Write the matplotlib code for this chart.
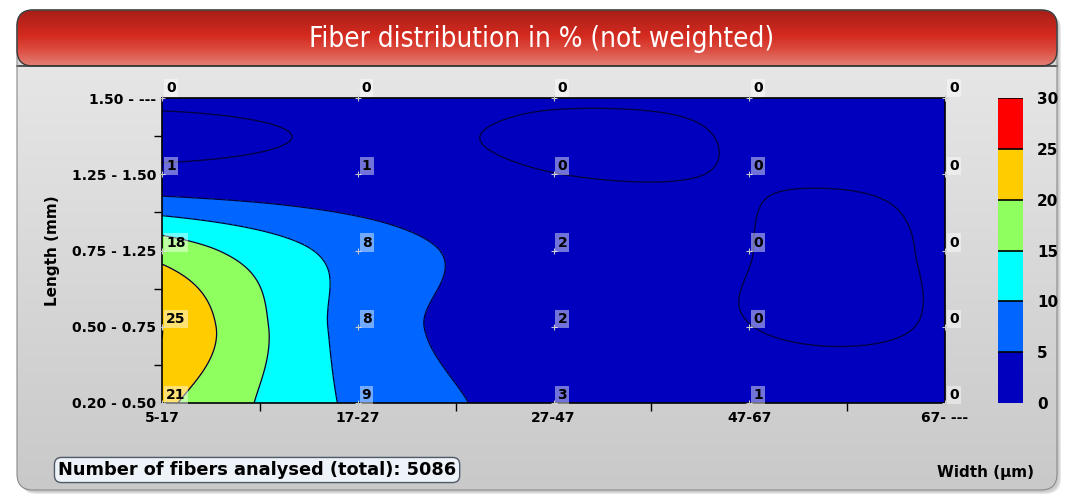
import numpy as np
import matplotlib
matplotlib.use("Agg")
import matplotlib.pyplot as plt
from matplotlib.colors import ListedColormap, BoundaryNorm, LinearSegmentedColormap
from matplotlib.patches import FancyBboxPatch

# class labels (bottom -> top for length, left -> right for width)
width_labels = ["5-17", "17-27", "27-47", "47-67", "67- ---"]
length_labels = ["0.20 - 0.50", "0.50 - 0.75", "0.75 - 1.25", "1.25 - 1.50", "1.50 - ---"]

# percentage of fibers per class, one row per length class
pct_020_050 = [21, 9, 3, 1, 0]
pct_050_075 = [25, 8, 2, 0, 0]
pct_075_125 = [18, 8, 2, 0, 0]
pct_125_150 = [1, 1, 0, 0, 0]
pct_150_up = [0, 0, 0, 0, 0]

n_fibers = 5086
levels = [0, 5, 10, 15, 20, 25, 30]
band_colors = ["#0000be", "#0066ff", "#00ffff", "#8fff5f", "#ffcc00", "#ff0000"]

W, H = 1078, 499


def hermite_matrix(n, xf):
    # cubic Hermite (Catmull-Rom) interpolation on 0..n-1 as a linear operator
    M = np.zeros((len(xf), n))
    for k in range(n):
        y = np.zeros(n)
        y[k] = 1.0
        d = np.gradient(y)
        i = np.clip(np.floor(xf).astype(int), 0, n - 2)
        t = xf - i
        h00 = 2 * t ** 3 - 3 * t ** 2 + 1
        h10 = t ** 3 - 2 * t ** 2 + t
        h01 = -2 * t ** 3 + 3 * t ** 2
        h11 = t ** 3 - t ** 2
        M[:, k] = h00 * y[i] + h10 * d[i] + h01 * y[i + 1] + h11 * d[i + 1]
    return M


Z = np.array([pct_020_050, pct_050_075, pct_075_125, pct_125_150, pct_150_up], float)
ny, nx = Z.shape
xf = np.linspace(0, nx - 1, 400)
yf = np.linspace(0, ny - 1, 300)
Zf = hermite_matrix(ny, yf) @ Z @ hermite_matrix(nx, xf).T

fig = plt.figure(figsize=(W / 100, H / 100), dpi=100)
fig.patch.set_facecolor("white")

# background panel with header band
bg = fig.add_axes([0, 0, 1, 1])
bg.set_xlim(0, W)
bg.set_ylim(H, 0)
bg.axis("off")

for k, a in enumerate([0.05, 0.07, 0.09]):
    sh = FancyBboxPatch((17 + 2 + k, 10 + 2 + k), 1040, 480, boxstyle="round,pad=0,rounding_size=16",
                        fc="#000000", ec="none", alpha=a, zorder=0)
    bg.add_patch(sh)

panel = FancyBboxPatch((17, 10), 1040, 480, boxstyle="round,pad=0,rounding_size=16",
                       fc="#d8d8d8", ec="none", zorder=1)
bg.add_patch(panel)
gray = LinearSegmentedColormap.from_list("panel", ["#e6e6e6", "#c9c9c9"])
im = bg.imshow(np.linspace(0, 1, 200)[:, None], cmap=gray, aspect="auto",
               extent=[17, 1057, 490, 66], zorder=1.5)
im.set_clip_path(panel)

header = FancyBboxPatch((17, 10), 1040, 56, boxstyle="round,pad=0,rounding_size=16",
                        fc="#cc2a20", ec="none", zorder=2)
bg.add_patch(header)
reds = LinearSegmentedColormap.from_list(
    "hdr", [(0, "#a61f17"), (0.45, "#d42a1f"), (0.7, "#dc4a3e"), (1, "#e38176")])
imh = bg.imshow(np.linspace(0, 1, 200)[:, None], cmap=reds, aspect="auto",
                extent=[17, 1057, 66, 10], zorder=2.5)
imh.set_clip_path(header)
bg.plot([17, 1057], [66, 66], color="#3a3a3a", lw=1.2, zorder=3)
bg.add_patch(FancyBboxPatch((17, 10), 1040, 480, boxstyle="round,pad=0,rounding_size=16",
                            fc="none", ec="#8a8a8a", lw=0.8, zorder=3))
bg.add_patch(FancyBboxPatch((17, 10), 1040, 56, boxstyle="round,pad=0,rounding_size=16",
                            fc="none", ec="#3a3a3a", lw=1.0, zorder=3))

bg.text(542, 39, "Fiber distribution in % (not weighted)", color="white", fontsize=20,
        ha="center", va="center", family="DejaVu Sans", stretch="condensed", zorder=4)

# contour plot
ax = fig.add_axes([162 / W, 1 - 403 / H, (945 - 162) / W, (403 - 98) / H])
cmap = ListedColormap(band_colors)
cmap.set_under(band_colors[0])
norm = BoundaryNorm(levels, cmap.N)
cs = ax.contourf(xf, yf, Zf, levels=levels, cmap=cmap, norm=norm, extend="min")
# outline the dips just below zero as well as the band edges
line_levels = [-0.02] + levels[1:-1]
ax.contour(xf, yf, Zf, levels=line_levels, colors="#00003c", linewidths=0.9,
           linestyles="solid")
ax.set_xlim(0, nx - 1)
ax.set_ylim(0, ny - 1)

ax.set_xticks(range(nx))
ax.set_xticklabels(width_labels, fontweight="bold", fontsize=10)
ax.set_yticks(range(ny))
ax.set_yticklabels(length_labels, fontweight="bold", fontsize=10)
ax.set_xticks(np.arange(nx - 1) + 0.5, minor=True)
ax.set_yticks(np.arange(ny - 1) + 0.5, minor=True)
ax.tick_params(which="major", length=0, pad=4)
ax.tick_params(axis="x", which="major", pad=6)
ax.tick_params(which="minor", length=6, width=1, direction="out", color="black")
for s in ax.spines.values():
    s.set_linewidth(1.2)

# value labels at every class centre
for j in range(ny):
    for i in range(nx):
        ax.plot(i, j, marker="+", ms=4, mew=0.8, color="#c8c8c8", zorder=5, clip_on=False)
        dy = 10 if j == ny - 1 else 8
        ax.annotate(str(int(Z[j, i])), (i, j), xytext=(4, dy), textcoords="offset pixels",
                    ha="left", va="center", fontsize=10, fontweight="bold", color="black",
                    bbox=dict(boxstyle="square,pad=0.15", fc="white", ec="none", alpha=0.45),
                    zorder=6, annotation_clip=False)

ax.set_ylabel("Length (mm)", fontweight="bold", fontsize=11)
ax.yaxis.set_label_coords(-102 / 783, 0.5)

# colour scale
cax = fig.add_axes([998 / W, 1 - 403 / H, 25 / W, (403 - 98) / H])
for k in range(len(band_colors)):
    cax.bar(0.5, levels[k + 1] - levels[k], bottom=levels[k], width=1,
            color=band_colors[k], edgecolor="none")
for lv in levels[1:]:
    cax.axhline(lv, color="black", lw=1.2)
cax.set_xlim(0, 1)
cax.set_ylim(levels[0], levels[-1])
cax.set_xticks([])
cax.set_yticks(levels)
cax.yaxis.tick_right()
cax.set_yticklabels([str(v) for v in levels], fontweight="bold", fontsize=11)
cax.tick_params(length=0, pad=10)
for s in cax.spines.values():
    s.set_visible(False)

bg.text(937, 472, "Width (µm)", fontweight="bold", fontsize=11, ha="left", va="center", zorder=4)
bg.text(58, 470, "Number of fibers analysed (total): %d" % n_fibers, fontweight="bold",
        fontsize=12.8, ha="left", va="center", zorder=4,
        bbox=dict(boxstyle="round,pad=0.2,rounding_size=0.4", fc="#eef3f9", ec="#505a66", lw=1))

fig.savefig("out.png", dpi=100)
